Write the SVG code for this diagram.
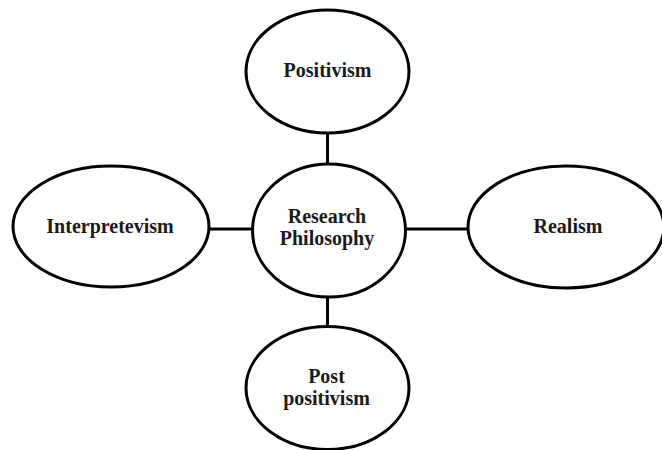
<svg xmlns="http://www.w3.org/2000/svg" width="662" height="450" viewBox="0 0 662 450">
<style>
.node ellipse{fill:#fff;stroke:#000;stroke-width:3}
.node text{font-family:"Liberation Serif","Times New Roman",serif;font-weight:bold;font-size:20px;fill:#1a1a1a;text-anchor:middle}
.conn line{stroke:#000;stroke-width:3}
</style>
<rect width="662" height="450" fill="#fff"/>
<g id="connectors" class="conn">
<line x1="327.5" y1="133" x2="327.5" y2="164"/>
<line x1="327.5" y1="297" x2="327.5" y2="327"/>
<line x1="209" y1="229" x2="252" y2="229"/>
<line x1="405" y1="229" x2="468" y2="229"/>
</g>
<g id="positivism" class="node">
<ellipse cx="327.5" cy="71.5" rx="81.5" ry="61.5"/>
<text x="327.5" y="77">Positivism</text>
</g>
<g id="interpretevism" class="node">
<ellipse cx="111" cy="226.5" rx="98" ry="60.5"/>
<text x="110" y="233">Interpretevism</text>
</g>
<g id="realism" class="node">
<ellipse cx="566" cy="227" rx="98" ry="61"/>
<text x="568" y="233">Realism</text>
</g>
<g id="post-positivism" class="node">
<ellipse cx="327.5" cy="388" rx="81.5" ry="61.5"/>
<text x="326.5" y="383">Post</text>
<text x="326.5" y="405">positivism</text>
</g>
<g id="research-philosophy" class="node">
<ellipse cx="329" cy="230.5" rx="76.5" ry="66.5"/>
<text x="327" y="223">Research</text>
<text x="327" y="245">Philosophy</text>
</g>
</svg>
